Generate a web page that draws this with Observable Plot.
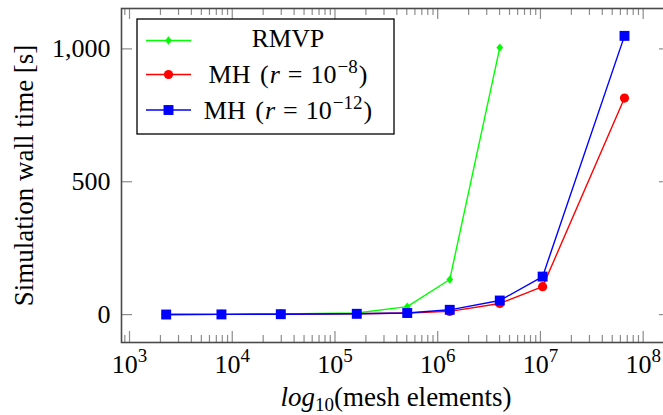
<!DOCTYPE html>
<html><head><meta charset="utf-8">
<script src="https://cdn.jsdelivr.net/npm/d3@7"></script>
<script src="https://cdn.jsdelivr.net/npm/@observablehq/plot@0.6"></script>
<style>
html,body{margin:0;padding:0;overflow:hidden;background:#fff;}
svg text, svg tspan { font-family: 'Liberation Serif', 'Times New Roman', serif !important; }
</style>
</head><body><div id="chart"></div>
<script>
// ---- data ----
const meshElements = [2275, 7850, 29700, 163000, 505000, 1310000, 4020000, 10500000, 65800000];
const rmvpTime  = [0.5, 1, 2, 6, 30, 132, 1005];
const mh8Time   = [0.3, 0.7, 1.5, 3, 6, 12, 42, 105, 815];
const mh12Time  = [0.3, 0.7, 1.5, 3, 6, 18, 53, 143, 1049];
const seriesNames = ["RMVP", "MH (r = 10^-8)", "MH (r = 10^-12)"];
const xTickValues = [1e3, 1e4, 1e5, 1e6, 1e7, 1e8];
const yTickValues = [0, 500, 1000];
const xLabel = "log_10(mesh elements)";
const yLabel = "Simulation wall time [s]";

// ---- styling ----
const colors = ["#00ff00", "#ff0000", "#0000ff"];
const serif = "'Liberation Serif', 'Times New Roman', serif";

const tallDiamond = {
  draw(ctx, size) {
    const r = Math.sqrt(size / Math.PI);
    ctx.moveTo(0, -r * 1.15); ctx.lineTo(r * 0.95, 0);
    ctx.lineTo(0, r * 1.15); ctx.lineTo(-r * 0.95, 0); ctx.closePath();
  }
};
const symbols = [tallDiamond, "circle", "square"];
const radii = [3.6, 4.6, 5.6];

const seriesValues = [rmvpTime, mh8Time, mh12Time];
const rows = seriesValues.flatMap((vals, i) =>
  vals.map((v, j) => ({series: seriesNames[i], x: meshElements[j], y: v})));

const minorTicks = [];
for (let k = 2; k <= 8; k++) for (let m = 2; m <= 9; m++) minorTicks.push(m * 10 ** k);

const W = 671, H = 415, mL = 121, mR = 1, mT = 8, mB = 73;
const frameW = W - mL - mR, frameH = H - mT - mB;
const xDomain = [10 ** 2.922, 10 ** 8.266];
const yDomain = [-105, 1152];
const minorTicksIn = minorTicks.filter(v => v > xDomain[0] && v < xDomain[1]);

const tickStroke = "#8c8c8c";
const seriesMarks = [];
seriesNames.forEach((name, i) => {
  const data = rows.filter(d => d.series === name);
  seriesMarks.push(Plot.line(data, {x: "x", y: "y", stroke: colors[i], strokeWidth: 1.4}));
  seriesMarks.push(Plot.dot(data, {x: "x", y: "y", symbol: symbols[i], r: radii[i], fill: colors[i], stroke: "none"}));
});

const plot = Plot.plot({
  width: W, height: H,
  marginLeft: mL, marginRight: mR, marginTop: mT, marginBottom: mB,
  x: {type: "log", domain: xDomain, axis: null},
  y: {domain: yDomain, axis: null},
  marks: [
    // ticks (inward, on all four sides)
    Plot.ruleX(xTickValues, {x: d => d, insetTop: frameH - 11, stroke: tickStroke, strokeWidth: 1.2}),
    Plot.ruleX(xTickValues, {x: d => d, insetBottom: frameH - 11, stroke: tickStroke, strokeWidth: 1.2}),
    Plot.ruleX(minorTicksIn, {x: d => d, insetTop: frameH - 7, stroke: tickStroke, strokeWidth: 1.2}),
    Plot.ruleX(minorTicksIn, {x: d => d, insetBottom: frameH - 7, stroke: tickStroke, strokeWidth: 1.2}),
    Plot.ruleY(yTickValues, {y: d => d, insetRight: frameW - 11, stroke: tickStroke, strokeWidth: 1.2}),
    Plot.ruleY(yTickValues, {y: d => d, insetLeft: frameW - 11, stroke: tickStroke, strokeWidth: 1.2}),
    // tick labels
    Plot.text(xTickValues, {x: d => d, frameAnchor: "bottom", lineAnchor: "top", textAnchor: "middle", dy: 12, fontSize: 26,
      text: d => `10^${Math.round(Math.log10(d))}`}),
    Plot.text(yTickValues, {y: d => d, frameAnchor: "left", lineAnchor: "middle", textAnchor: "end", dx: -11, fontSize: 26,
      text: d3.format(",")}),
    // axis titles
    Plot.text([xLabel], {text: d => d, frameAnchor: "bottom", lineAnchor: "top", textAnchor: "middle", dy: 44, fontSize: 27}),
    Plot.text([yLabel], {text: d => d, frameAnchor: "left", rotate: -90, lineAnchor: "top", textAnchor: "middle", dx: -108, fontSize: 27}),
    ...seriesMarks,
    Plot.frame({stroke: "#4a4a4a", strokeWidth: 1.6})
  ]
});
plot.style.maxWidth = "none";
plot.style.background = "#fff";
plot.style.color = "#000";
plot.style.fontFamily = serif;
document.getElementById("chart").appendChild(plot);

const svg = d3.select(plot);

// rich text: superscripts on x tick labels, italic + subscript in x title
svg.selectAll("text").each(function() {
  const t = this.textContent;
  const s = d3.select(this);
  if (/^10\^\d+$/.test(t)) {
    const [base, exp] = t.split("^");
    s.text(base);
    s.append("tspan").attr("font-size", 19).attr("dy", -11).text(exp);
  } else if (t === xLabel) {
    s.text(null);
    s.append("tspan").attr("font-style", "italic").text("log");
    s.append("tspan").attr("font-size", 19).attr("dy", 5).text("10");
    s.append("tspan").attr("dy", -5).text("(mesh elements)");
  }
});

// legend
const lg = svg.append("g").attr("font-size", 26);
lg.append("rect").attr("x", 137).attr("y", 19).attr("width", 257).attr("height", 115)
  .attr("fill", "#fff").attr("stroke", "#000").attr("stroke-width", 1.3);
const rowY = [40.5, 74.5, 110];
const baseY = [46.7, 83, 118.5];
seriesNames.forEach((name, i) => {
  lg.append("line").attr("x1", 146).attr("x2", 191).attr("y1", rowY[i]).attr("y2", rowY[i])
    .attr("stroke", colors[i]).attr("stroke-width", 1.4);
  const sym = typeof symbols[i] === "string" ? (symbols[i] === "circle" ? d3.symbolCircle : d3.symbolSquare) : symbols[i];
  lg.append("path").attr("d", d3.symbol(sym, Math.PI * radii[i] ** 2)())
    .attr("transform", `translate(168.5,${rowY[i]})`).attr("fill", colors[i]);
});
lg.append("text").attr("x", 288).attr("y", baseY[0]).attr("text-anchor", "middle").attr("font-size", 25.5).text(seriesNames[0]);
[1, 2].forEach(i => {
  const name = seriesNames[i];
  const exp = name.match(/\^(-?\d+)/)[1].replace("-", "\u2212");
  const tx = lg.append("text").attr("x", 288).attr("y", baseY[i]).attr("text-anchor", "middle");
  tx.append("tspan").text("MH");
  tx.append("tspan").attr("dx", 3).text(" (");
  tx.append("tspan").attr("dx", 1).attr("font-style", "italic").text("r");
  tx.append("tspan").attr("dx", 8).text("=");
  tx.append("tspan").attr("dx", 8).text("10");
  tx.append("tspan").attr("dx", 1).attr("dy", -10).attr("font-size", 19).text(exp);
  tx.append("tspan").attr("dx", 1).attr("dy", 10).text(")");
});
</script>
</body></html>
